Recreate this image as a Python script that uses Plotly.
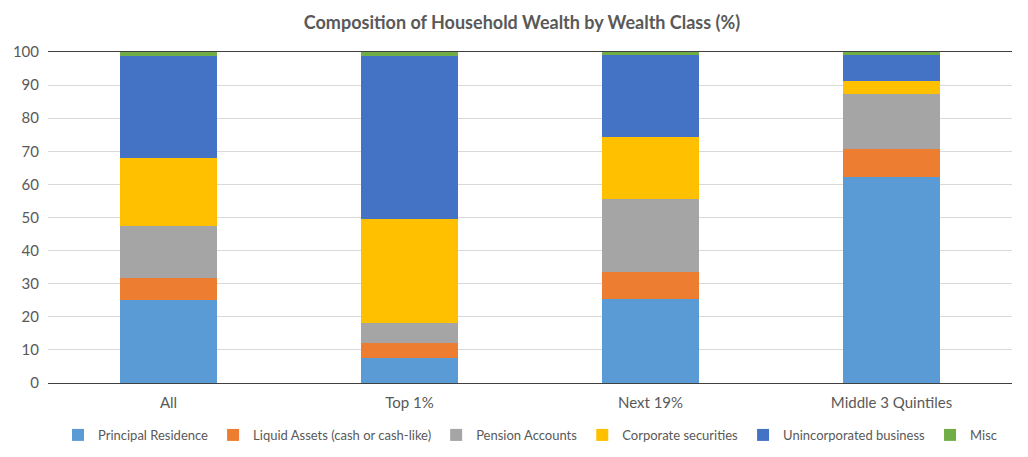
import plotly.graph_objects as go

categories = ["All", "Top 1%", "Next 19%", "Middle 3 Quintiles"]
series_names = ["Principal Residence", "Liquid Assets (cash or cash-like)", "Pension Accounts",
                "Corporate securities", "Unincorporated business", "Misc"]
principal_residence = [25.1, 7.5, 25.3, 62.1]
liquid_assets = [6.6, 4.5, 8.1, 8.5]
pension_accounts = [15.7, 6.1, 22.3, 16.6]
corporate_securities = [20.6, 31.5, 18.7, 4.0]
unincorporated_business = [30.8, 49.2, 24.8, 8.0]
misc = [1.2, 1.2, 0.8, 0.8]
y_ticks = [0, 10, 20, 30, 40, 50, 60, 70, 80, 90, 100]

values = [principal_residence, liquid_assets, pension_accounts,
          corporate_securities, unincorporated_business, misc]
colors = ["#5B9BD5", "#ED7D31", "#A5A5A5", "#FFC000", "#4472C4", "#70AD47"]

fig = go.Figure()
for name, vals, col in zip(series_names, values, colors):
    fig.add_trace(go.Bar(x=categories, y=vals, name=name, marker_color=col,
                         marker_line_width=0, width=0.4))

font_family = "Lato, 'Open Sans', sans-serif"
fig.update_layout(
    barmode="stack",
    width=1028, height=457,
    paper_bgcolor="white", plot_bgcolor="white",
    margin=dict(l=40, r=24, t=44, b=82),
    font=dict(family=font_family, size=15, color="#595959"),
    title=dict(text="<b>Composition of Household Wealth by Wealth Class (%)</b>",
               x=0.5, xanchor="center", y=0.967, yanchor="middle",
               font=dict(size=18, color="#595959", family=font_family)),
    legend=dict(orientation="h", x=0.5, xanchor="center", y=-0.157, yanchor="middle",
                font=dict(size=13, color="#595959"), traceorder="normal",
                itemwidth=30),
    showlegend=True,
)
fig.update_xaxes(showline=True, linecolor="#404040", linewidth=1, mirror=True,
                 ticks="", ticklabelstandoff=6, automargin=False,
                 tickfont=dict(size=15, color="#595959"))
fig.update_yaxes(range=[0, 100], tickvals=y_ticks, showgrid=True, gridcolor="#D9D9D9",
                 gridwidth=1, zeroline=False, showline=False, ticks="",
                 ticklabelstandoff=8, automargin=False,
                 tickfont=dict(size=15, color="#595959"))
fig.write_html("out.html")
